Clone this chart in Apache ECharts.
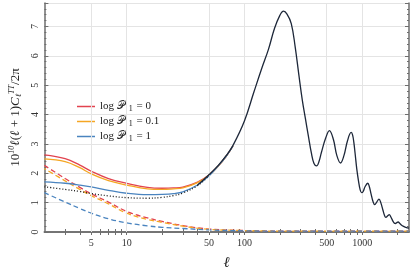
<!DOCTYPE html>
<html><head><meta charset="utf-8">
<script src="https://cdn.jsdelivr.net/npm/echarts@6/dist/echarts.min.js"></script>
<style>html,body{margin:0;padding:0;background:#fff}#c{width:411px;height:276px}</style>
</head><body><div id="c"></div>
<script>
// ---- data ----
const ellLow = [2,3,4,5,7,10,15,20,25,30,40,50,60,70,80];
const redSolid = [2.63,2.50,2.28,2.07,1.82,1.66,1.52,1.49,1.50,1.53,1.70,1.94,2.25,2.58,2.93];
const orangeSolid = [2.49,2.40,2.19,1.98,1.75,1.60,1.47,1.45,1.47,1.50,1.68,1.93,2.25,2.58,2.93];
const blueSolid = [1.71,1.66,1.60,1.54,1.42,1.32,1.27,1.28,1.31,1.37,1.60,1.91,2.25,2.58,2.93];
const ellDot = [2,3,4,5,7,10,15,20,25,30,40,50];
const blackDot = [1.54,1.45,1.38,1.31,1.23,1.17,1.15,1.18,1.24,1.33,1.58,1.92];
const ellHigh = [40,50,60,70,80,100,120,140,160,180,200,215,230,250,270,290,310,330,350,370,390,410,430,450,490,527,570,610,655,700,750,807,830,850,870,900,930,960,990,1020,1060,1116,1150,1190,1240,1280,1330,1390,1440,1500,1550,1590,1650,1700,1750,1820,1880,1920,1970,2020,2080,2150,2250,2350,2500];
const blackHigh = [1.60,1.95,2.27,2.60,2.95,3.78,4.75,5.56,6.22,6.93,7.38,7.52,7.42,7.10,6.30,5.35,4.50,3.85,3.25,2.70,2.33,2.25,2.40,2.70,3.20,3.45,3.15,2.60,2.35,2.60,3.10,3.39,3.30,3.05,2.70,2.15,1.75,1.45,1.34,1.38,1.55,1.66,1.55,1.30,1.02,0.93,1.02,1.12,1.00,0.75,0.56,0.50,0.55,0.59,0.52,0.38,0.30,0.29,0.32,0.34,0.30,0.24,0.19,0.16,0.13];
const ellDash = [2,3,4,5,7,10,15,20,30,50,100,200,500,1000,2500];
const redDash = [2.27,1.82,1.52,1.30,1.02,0.70,0.48,0.36,0.22,0.10,0.05,0.03,0.03,0.03,0.03];
const orangeDash = [2.16,1.74,1.45,1.24,0.96,0.64,0.43,0.33,0.20,0.09,0.05,0.03,0.03,0.03,0.03];
const blueDash = [1.34,1.02,0.80,0.64,0.45,0.31,0.21,0.16,0.12,0.07,0.04,0.03,0.03,0.03,0.03];
const xLabels = [5,10,50,100,500,1000];
const xTicks = [3,4,5,6,7,8,9,10,20,30,40,50,60,70,80,90,100,200,300,400,500,600,700,800,900,1000,2000];
const legendValues = ['0','0.1','1'];
const legendNames = legendValues.map(v => 'log P1 = ' + v);

const pairs = (xs, ys) => xs.map((x,i)=>[x, ys[i]]);
const FONT = 'Liberation Serif';
const RED='#e2434f', ORANGE='#f5a623', BLUE='#4a84bf', NAVY='#1d2739';
const axisCol = '#6e6e6e';

const chart = echarts.init(document.getElementById('c'), null, {renderer:'canvas'});
const xBase = {
  type:'log', logBase:10, min:2, max:2500,
  axisLine:{show:true, lineStyle:{color:axisCol, width:1.5}},
  splitLine:{show:false}, minorSplitLine:{show:false}
};
const yBase = {
  type:'value', min:0, max:7.8, interval:1,
  axisLine:{show:true, lineStyle:{color:axisCol, width:1.5}},
  axisTick:{show:true, inside:true, length:4, lineStyle:{color:axisCol}},
  minorTick:{show:true, splitNumber:5, length:2, lineStyle:{color:axisCol}}
};
chart.setOption({
  animation:false,
  textStyle:{fontFamily:FONT},
  grid:{left:28, right:2, top:3, bottom:40},
  xAxis:[
    Object.assign({}, xBase, {
      position:'bottom',
      name:'ℓ', nameLocation:'middle', nameGap:24,
      nameTextStyle:{fontFamily:FONT, fontStyle:'italic', fontSize:15, color:'#222'},
      axisTick:{show:true, inside:true, length:3, customValues:xTicks, lineStyle:{color:axisCol}},
      axisLabel:{show:true, customValues:xLabels, fontFamily:FONT, fontSize:10, color:'#333', margin:6,
        formatter:v => String(Math.round(v))}
    }),
    Object.assign({}, xBase, {
      position:'top',
      axisTick:{show:true, inside:true, length:3, customValues:xTicks, lineStyle:{color:axisCol}},
      axisLabel:{show:false}
    })
  ],
  yAxis:[
    Object.assign({}, yBase, {
      position:'left',
      splitLine:{show:true, lineStyle:{color:'#e4e4e4', width:1}},
      axisLabel:{show:true, rotate:90, fontFamily:FONT, fontSize:10, color:'#333', margin:4,
        formatter:v => (v===Math.round(v) ? String(v) : '')},
      name:'{n|10}{s|10}{i|ℓ}{n|(}{i|ℓ}{n| + 1)}{i|C}{b|ℓ}{s|TT}{n|/2π}',
      nameLocation:'middle', nameGap:17, nameRotate:90,
      nameTextStyle:{
        fontFamily:FONT, color:'#222',
        rich:{
          n:{fontFamily:FONT, fontSize:13, color:'#222'},
          i:{fontFamily:FONT, fontSize:13, fontStyle:'italic', color:'#222'},
          s:{fontFamily:FONT, fontSize:8, fontStyle:'italic', color:'#222', verticalAlign:'top', padding:[0,0,7,0]},
          b:{fontFamily:FONT, fontSize:8, fontStyle:'italic', color:'#222', padding:[6,0,0,0]}
        }
      }
    }),
    Object.assign({}, yBase, {
      position:'right',
      splitLine:{show:false},
      axisLabel:{show:false}
    })
  ],
  legend:{
    show:true, orient:'vertical', left:72, top:95,
    data:legendNames, icon:'rect', itemWidth:18, itemHeight:1.5, itemGap:2,
    formatter: name => '{n|log }{p|𝒫}{s|1}{n| = ' + legendValues[legendNames.indexOf(name)] + '}',
    textStyle:{fontFamily:FONT, fontSize:11, color:'#222', lineHeight:13,
      rich:{
        n:{fontFamily:FONT, fontSize:11, color:'#222'},
        p:{fontFamily:'DejaVu Serif', fontSize:11, color:'#222', width:11},
        s:{fontFamily:FONT, fontSize:8, color:'#111', lineHeight:13, verticalAlign:'bottom', padding:[0,1,0,1]}
      }}
  },
  series:[
    {type:'line', name:'grid', xAxisIndex:0, yAxisIndex:0, data:[], z:1, silent:true,
      markLine:{silent:true, symbol:'none', label:{show:false},
        lineStyle:{color:'#e4e4e4', width:1, type:'solid'},
        data:xLabels.map(v=>({xAxis:v}))}},
    {type:'line', name:'rd', data:pairs(ellDash, redDash), smooth:0.4, showSymbol:false, z:3,
      lineStyle:{color:RED, width:1.3, type:[5,3]}},
    {type:'line', name:'od', data:pairs(ellDash, orangeDash), smooth:0.4, showSymbol:false, z:3,
      lineStyle:{color:ORANGE, width:1.3, type:[5,3], dashOffset:3}},
    {type:'line', name:'bd', data:pairs(ellDash, blueDash), smooth:0.4, showSymbol:false, z:3,
      lineStyle:{color:BLUE, width:1.3, type:[5,3]}},
    {type:'line', name:legendNames[0], data:pairs(ellLow, redSolid), smooth:0.4, showSymbol:false, z:4,
      itemStyle:{color:RED}, lineStyle:{color:RED, width:1.3}},
    {type:'line', name:legendNames[1], data:pairs(ellLow, orangeSolid), smooth:0.4, showSymbol:false, z:4,
      itemStyle:{color:ORANGE}, lineStyle:{color:ORANGE, width:1.3}},
    {type:'line', name:legendNames[2], data:pairs(ellLow, blueSolid), smooth:0.4, showSymbol:false, z:4,
      itemStyle:{color:BLUE}, lineStyle:{color:BLUE, width:1.3}},
    {type:'line', name:'lcdm-dot', data:pairs(ellDot, blackDot), smooth:0.4, showSymbol:false, z:5,
      lineStyle:{color:'#111', width:1.3, type:[1,2]}},
    {type:'line', name:'lcdm', data:pairs(ellHigh, blackHigh), smooth:0.4, showSymbol:false, z:6,
      lineStyle:{color:NAVY, width:1.3}}
  ]
});
</script></body></html>
